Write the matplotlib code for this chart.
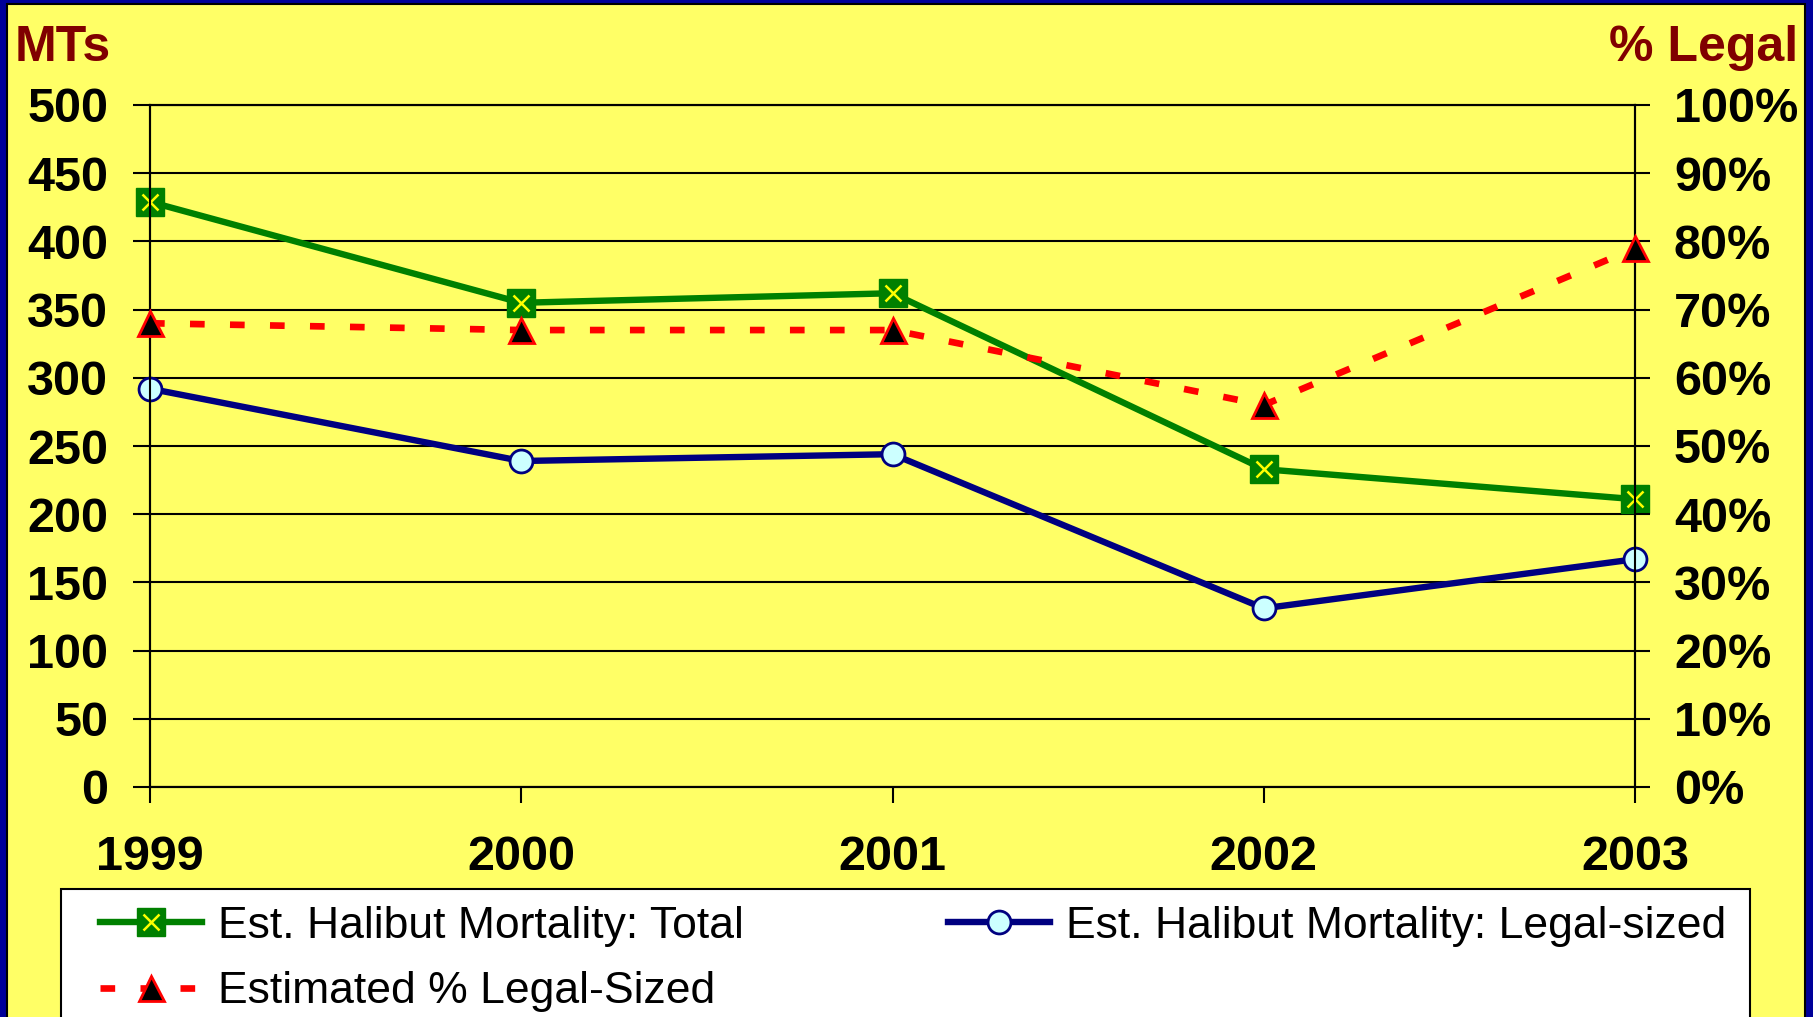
import matplotlib.pyplot as plt
from matplotlib.patches import Rectangle
from matplotlib.ticker import PercentFormatter

# values
years = [1999, 2000, 2001, 2002, 2003]
total_mt = [429, 355, 362, 233, 211]
legal_mt = [292, 239, 244, 131, 167]
pct_legal = [68, 67, 67, 56, 79]

mt_ticks = list(range(0, 501, 50))
pct_ticks = list(range(0, 101, 10))

labels = ['Est. Halibut Mortality: Total',
          'Estimated % Legal-Sized',
          'Est. Halibut Mortality: Legal-sized']

NAVY = '#000099'
YELLOW = '#FFFF66'
DARKRED = '#800000'
W, H = 1813, 1017

plt.rcParams['font.family'] = ['Liberation Sans', 'DejaVu Sans']

fig = plt.figure(figsize=(W / 100, H / 100), dpi=100, facecolor=NAVY)

# yellow slide panel
fig.patches.append(Rectangle((7 / W, -0.05), (1805 - 7) / W, 1.05 - 4 / H,
                             transform=fig.transFigure, facecolor=YELLOW,
                             edgecolor='black', lw=1.5, zorder=-2))
# white legend box
fig.patches.append(Rectangle((61 / W, -0.05), (1750 - 61) / W, 0.05 + 1 - 889 / H,
                             transform=fig.transFigure, facecolor='white',
                             edgecolor='black', lw=1.5, zorder=-1))

ax = fig.add_axes([150 / W, 1 - 787 / H, (1635 - 150) / W, (787 - 105) / H])
ax.set_facecolor('none')
ax2 = ax.twinx()

tick_font = dict(fontsize=35, fontweight='bold')

h_total, = ax.plot(years, total_mt, color='#008000', lw=4.6, marker='s', ms=19.5,
                   mfc='#008000', mec='#008000', clip_on=False, zorder=3)
h_totalx, = ax.plot(years, total_mt, ls='none', marker='x', ms=12, mew=1.8,
                    color='#FFFF00', clip_on=False, zorder=4)
h_legal, = ax.plot(years, legal_mt, color='#000080', lw=4.6, marker='o', ms=16.5,
                   mfc='#CCFFFF', mec='#000080', mew=2, clip_on=False, zorder=3)
h_pct, = ax2.plot(years, pct_legal, color='#FF0000', lw=4.8, dashes=(2.2, 3.8),
                  marker='^', ms=18, mfc='black', mec='#FF0000', mew=2,
                  clip_on=False, zorder=3)

ax.set_xlim(1999, 2003)
ax.set_ylim(0, 500)
ax.set_xticks(years)
ax.set_xticklabels([str(y) for y in years], **tick_font)
ax.set_yticks(mt_ticks)
ax.set_yticklabels([str(v) for v in mt_ticks], **tick_font)
ax.yaxis.grid(True, color='black', lw=1.5)
ax.set_axisbelow(True)
ax.tick_params(axis='y', length=12, width=1.5, pad=18)
ax.tick_params(axis='x', length=11.5, width=1.5, pad=23)

ax2.set_ylim(0, 100)
ax2.set_yticks(pct_ticks)
ax2.yaxis.set_major_formatter(PercentFormatter(xmax=100, decimals=0))
for t in ax2.get_yticklabels():
    t.set_fontsize(35)
    t.set_fontweight('bold')
ax2.tick_params(axis='y', length=11, width=1.5, pad=17)

for a in (ax, ax2):
    for s in a.spines.values():
        s.set_color('black')
        s.set_linewidth(1.5)

fig.text(15 / W, 1 - 48 / H, 'MTs', ha='left', va='center',
         fontsize=36, fontweight='bold', color=DARKRED)
fig.text(1798 / W, 1 - 48 / H, '% Legal', ha='right', va='center',
         fontsize=36, fontweight='bold', color=DARKRED)

fig.legend([(h_total, h_totalx), h_pct, h_legal], labels, ncol=2,
           loc='upper left', bbox_to_anchor=(100 / W, 1 - 906 / H),
           frameon=False, fontsize=32, borderpad=0, borderaxespad=0,
           handlelength=2.3, handletextpad=0.35, labelspacing=0.55,
           columnspacing=4.6, numpoints=1)

fig.savefig('out.png', dpi=100, facecolor=NAVY)
